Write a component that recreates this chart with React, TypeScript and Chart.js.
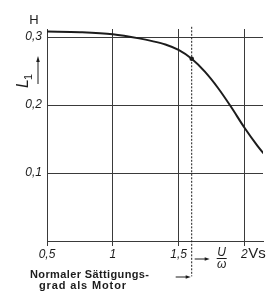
import React, { useEffect, useRef } from "react";
import { Chart, registerables } from "chart.js";

Chart.register(...registerables);

const xValues = [0.5, 0.75, 1.0, 1.2, 1.3, 1.4, 1.5, 1.6, 1.7, 1.8, 1.9, 2.0, 2.1, 2.15];
const lValues = [0.308, 0.307, 0.304, 0.298, 0.294, 0.289, 0.281, 0.268, 0.249, 0.225, 0.197, 0.167, 0.14, 0.128];
const markerX = [1.6];
const markerY = [0.268];
const dashX = [1.6, 1.6];
const dashY = [0.315, -0.052];
const xTicks = [0.5, 1, 1.5, 2];
const yTicks = [0.1, 0.2, 0.3];

const INK = "#1c1c1c";
const GRID = "#3a3a3a";

const fmt = (v: number) => String(v).replace(".", ",");

const spacedText = (ctx: CanvasRenderingContext2D, text: string, x: number, y: number, width: number) => {
  const chars = Array.from(text);
  const widths = chars.map((c) => ctx.measureText(c).width);
  const total = widths.reduce((a, b) => a + b, 0);
  const gap = chars.length > 1 ? (width - total) / (chars.length - 1) : 0;
  let cx = x;
  chars.forEach((c, i) => {
    ctx.fillText(c, cx, y);
    cx += widths[i] + gap;
  });
};

const annotPlugin = {
  id: "annot",
  afterDraw(chart: any) {
    const ctx = chart.ctx as CanvasRenderingContext2D;
    const xs = chart.scales.x;
    const ys = chart.scales.y;
    ctx.save();
    ctx.fillStyle = INK;
    ctx.strokeStyle = INK;

    // H unit
    ctx.font = '13px "Liberation Sans"';
    ctx.textAlign = "center";
    ctx.textBaseline = "alphabetic";
    ctx.fillText("H", xs.left - 13, ys.top - 5);

    // L1 rotated
    ctx.save();
    ctx.translate(28, 88);
    ctx.rotate(-Math.PI / 2);
    ctx.textAlign = "left";
    ctx.font = 'italic 16px "Liberation Sans"';
    ctx.fillText("L", 0, 0);
    const lw = ctx.measureText("L").width;
    ctx.font = '11px "Liberation Sans"';
    ctx.fillText("1", lw - 1, 4);
    ctx.restore();

    // upward arrow
    ctx.lineWidth = 1;
    ctx.beginPath();
    ctx.moveTo(38, 84);
    ctx.lineTo(38, 60);
    ctx.stroke();
    ctx.beginPath();
    ctx.moveTo(38, 56);
    ctx.lineTo(36.2, 62);
    ctx.lineTo(39.8, 62);
    ctx.closePath();
    ctx.fill();

    // Vs unit
    const x2 = xs.getPixelForValue(2);
    ctx.font = '15px "Liberation Sans"';
    ctx.textAlign = "left";
    ctx.textBaseline = "alphabetic";
    ctx.fillText("Vs", x2 + 4, ys.bottom + 17);

    // U / omega
    const xd = xs.getPixelForValue(1.6);
    const cx = xd + 30;
    ctx.font = 'italic 12px "Liberation Sans"';
    ctx.textAlign = "center";
    ctx.fillText("U", cx, ys.bottom + 15);
    ctx.beginPath();
    ctx.moveTo(cx - 5, ys.bottom + 17.5);
    ctx.lineTo(cx + 5, ys.bottom + 17.5);
    ctx.stroke();
    ctx.fillText("ω", cx, ys.bottom + 27);

    // arrows
    const arrow = (x0: number, x1: number, y: number) => {
      ctx.beginPath();
      ctx.moveTo(x0, y);
      ctx.lineTo(x1 - 4, y);
      ctx.stroke();
      ctx.beginPath();
      ctx.moveTo(x1, y);
      ctx.lineTo(x1 - 5, y - 1.8);
      ctx.lineTo(x1 - 5, y + 1.8);
      ctx.closePath();
      ctx.fill();
    };
    arrow(xd + 3, xd + 18, ys.bottom + 18);
    arrow(xd - 16, xd - 1, ys.bottom + 36);

    // bottom text
    ctx.font = 'bold 11px "Liberation Sans"';
    ctx.textAlign = "left";
    spacedText(ctx, "Normaler Sättigungs-", 30, 278, 119);
    spacedText(ctx, "grad als Motor", 39, 289, 87);
    ctx.restore();
  },
};

export default function App() {
  const ref = useRef<HTMLCanvasElement>(null);
  useEffect(() => {
    if (!ref.current) return;
    const chart = new Chart(ref.current, {
      type: "line",
      data: {
        datasets: [
          {
            data: xValues.map((x, i) => ({ x, y: lValues[i] })),
            borderColor: INK,
            borderWidth: 2,
            pointRadius: 0,
            cubicInterpolationMode: "monotone",
            fill: false,
          },
          {
            data: dashX.map((x, i) => ({ x, y: dashY[i] })),
            borderColor: INK,
            borderWidth: 1,
            borderDash: [2, 1.5],
            pointRadius: 0,
            clip: false,
            fill: false,
          } as any,
          {
            data: markerX.map((x, i) => ({ x, y: markerY[i] })),
            showLine: false,
            pointRadius: 2.3,
            pointBackgroundColor: INK,
            pointBorderWidth: 0,
          },
        ],
      },
      options: {
        responsive: false,
        animation: false,
        layout: { padding: { top: 29, right: 0, left: 0, bottom: 0 } },
        plugins: { legend: { display: false }, tooltip: { enabled: false } },
        scales: {
          x: {
            type: "linear",
            min: 0.5,
            max: 2.142,
            afterFit: (s: any) => {
              s.height = 50;
            },
            afterBuildTicks: (s: any) => {
              s.ticks = xTicks.map((v) => ({ value: v }));
            },
            ticks: {
              callback: (v: any) => fmt(Number(v)),
              font: { family: "Liberation Sans", size: 12, style: "italic" },
              color: INK,
              padding: 1,
              maxRotation: 0,
            },
            grid: { color: GRID, lineWidth: 1, tickLength: 5, drawTicks: true },
            border: { display: true, color: GRID, width: 1 },
          },
          y: {
            type: "linear",
            min: 0,
            max: 0.3118,
            afterFit: (s: any) => {
              s.width = 47;
            },
            afterBuildTicks: (s: any) => {
              s.ticks = [0, ...yTicks].map((v) => ({ value: v }));
            },
            ticks: {
              callback: (v: any) => (Number(v) === 0 ? "" : fmt(Number(v))),
              font: { family: "Liberation Sans", size: 12, style: "italic" },
              color: INK,
              padding: 5,
            },
            grid: { color: GRID, lineWidth: 1, drawTicks: false },
            border: { display: true, color: GRID, width: 1 },
          },
        },
      },
      plugins: [annotPlugin],
    });
    return () => chart.destroy();
  }, []);
  return (
    <div style={{ position: "fixed", left: 0, top: 0, width: 267, height: 291, background: "#fff" }}>
      <canvas ref={ref} width={267} height={291} style={{ display: "block" }} />
    </div>
  );
}
